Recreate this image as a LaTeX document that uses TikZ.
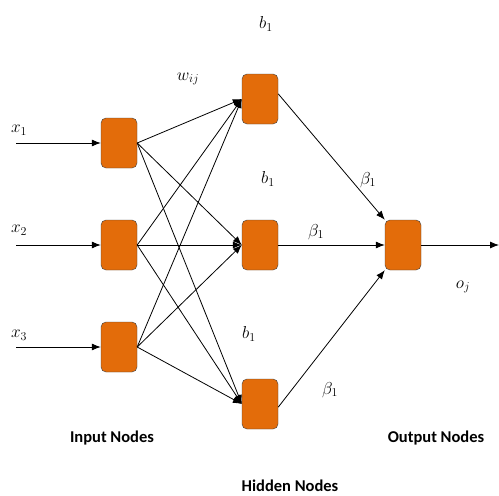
\documentclass[tikz,border=0pt]{standalone}
\usepackage{amsmath, amssymb}
\usepackage{fontspec}
\setmainfont{Carlito}
\usepackage{tikz}
\usetikzlibrary{arrows.meta}
\definecolor{nodeorange}{RGB}{227,108,10}

\begin{document}
\begin{tikzpicture}[x=1pt, y=-1pt,
    unit/.style={draw=black!75, fill=nodeorange, rounded corners=5pt, minimum width=36pt, minimum height=50pt, inner sep=0pt},
    conn/.style={-{Latex[length=9pt,width=7pt]}, thick},
    wlabel/.style={font=\fontsize{17}{20}\selectfont},
    caption/.style={font=\fontsize{16.5}{20}\selectfont\bfseries}]
    \useasboundingbox (0,0) rectangle (499,496);

    \node [unit] (i1) at (119,143) {};
    \node [unit] (i2) at (119,245) {};
    \node [unit] (i3) at (119,347) {};
    \node [unit] (h1) at (260,99) {};
    \node [unit] (h2) at (260,245) {};
    \node [unit] (h3) at (260,404) {};
    \node [unit] (o) at (403,245) {};

    \coordinate (x1) at (16,143);
    \coordinate (x2) at (16,245);
    \coordinate (x3) at (16,347);
    \coordinate (oj) at (499,245);

    \draw [conn] (x1) -- (i1.west);
    \draw [conn] (x2) -- (i2.west);
    \draw [conn] (x3) -- (i3.west);

    \draw [conn] (i1.east) -- (h1.west);
    \draw [conn] (i1.east) -- (h2.west);
    \draw [conn] (i1.east) -- (h3.west);
    \draw [conn] (i2.east) -- (h1.west);
    \draw [conn] (i2.east) -- (h2.west);
    \draw [conn] (i2.east) -- (h3.west);
    \draw [conn] (i3.east) -- (h1.west);
    \draw [conn] (i3.east) -- (h2.west);
    \draw [conn] (i3.east) -- (h3.west);

    \draw [conn] (h1.north east) ++(0,20) coordinate (h1out) (h1out) -- (o.north west);
    \draw [conn] (h2.east) -- (o.west);
    \draw [conn] (h3.south east) ++(0,-22) coordinate (h3out) (h3out) -- (o.south west);
    \draw [conn] (o.east) -- (oj);

    \node [wlabel] (lx1) at (19,130) {$x_1$};
    \node [wlabel] (lx2) at (19,230) {$x_2$};
    \node [wlabel] (lx3) at (19,335) {$x_3$};
    \node [wlabel] (lw) at (188,79) {$w_{ij}$};
    \node [wlabel] (lb1) at (266,24) {$b_1$};
    \node [wlabel] (lb2) at (268,179) {$b_1$};
    \node [wlabel] (lb3) at (249,334) {$b_1$};
    \node [wlabel] (lbeta1) at (368,180) {$\beta_1$};
    \node [wlabel] (lbeta2) at (316,232) {$\beta_1$};
    \node [wlabel] (lbeta3) at (330,390) {$\beta_1$};
    \node [wlabel] (loj) at (463,287) {$o_j$};

    \node [caption] (cin) at (112,438) {Input Nodes};
    \node [caption] (chid) at (290,486) {Hidden Nodes};
    \node [caption] (cout) at (436,438) {Output Nodes};
\end{tikzpicture}
\end{document}
